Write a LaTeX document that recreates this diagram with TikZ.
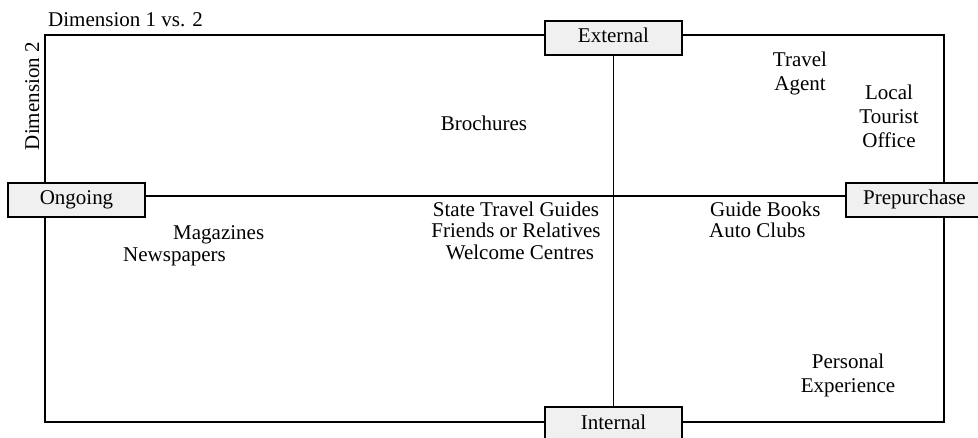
\documentclass[tikz,border=0pt]{standalone}
\usepackage{fontspec}
\setmainfont{Liberation Serif}
\definecolor{boxgray}{HTML}{F0F0F0}
\begin{document}
\begin{tikzpicture}[x=1pt,y=-1pt,
  every node/.style={font=\fontsize{21}{24}\selectfont},
  axisbox/.style={draw=black, line width=1.4pt, fill=boxgray, minimum width=137pt, minimum height=34pt, inner sep=0pt, text height=14pt, text depth=4pt},
  lbl/.style={inner sep=0pt, anchor=base},
  axisline/.style={draw=black, line width=1.3pt}]
\useasboundingbox (0,0) rectangle (978,438);
\fill[white] (0,0) rectangle (978,438);
% frame
\coordinate (tl) at (45,35);
\coordinate (br) at (944,422);
\draw[axisline] (tl) rectangle (br);
% axis end boxes
\node[axisbox] (external) at (613.5,38) {External};
\node[axisbox] (internal) at (613.5,424) {Internal};
\node[axisbox] (ongoing) at (76.5,200) {Ongoing};
\node[axisbox] (prepurchase) at (914.5,200) {Prepurchase};
% axes
\draw[axisline] ([yshift=4pt]ongoing.east) -- ([yshift=4pt]prepurchase.west);
\draw[axisline] (external.south) -- (internal.north);
% titles
\node[lbl, anchor=base west] (title) at (48,27) {Dimension 1 vs. 2};
\node[lbl, anchor=base east, rotate=90] (dimtwo) at (39,42) {Dimension 2};
% labels
\node[lbl] (brochures) at (484,131) {Brochures};
\node[lbl] (travel1) at (800,67) {Travel};
\node[lbl] (travel2) at (800,91) {Agent};
\node[lbl] (local1) at (889,100) {Local};
\node[lbl] (local2) at (889,124) {Tourist};
\node[lbl] (local3) at (889,148) {Office};
\node[lbl] (stg) at (516,217) {State Travel Guides};
\node[lbl] (friends) at (516,238) {Friends or Relatives};
\node[lbl] (welcome) at (520,260) {Welcome Centres};
\node[lbl, anchor=base west] (guide) at (710,217) {Guide Books};
\node[lbl, anchor=base west] (auto) at (709,238) {Auto Clubs};
\node[lbl, anchor=base west] (magazines) at (173,240) {Magazines};
\node[lbl, anchor=base west] (newspapers) at (123,262) {Newspapers};
\node[lbl] (personal1) at (848,369) {Personal};
\node[lbl] (personal2) at (848,393) {Experience};
\end{tikzpicture}
\end{document}
